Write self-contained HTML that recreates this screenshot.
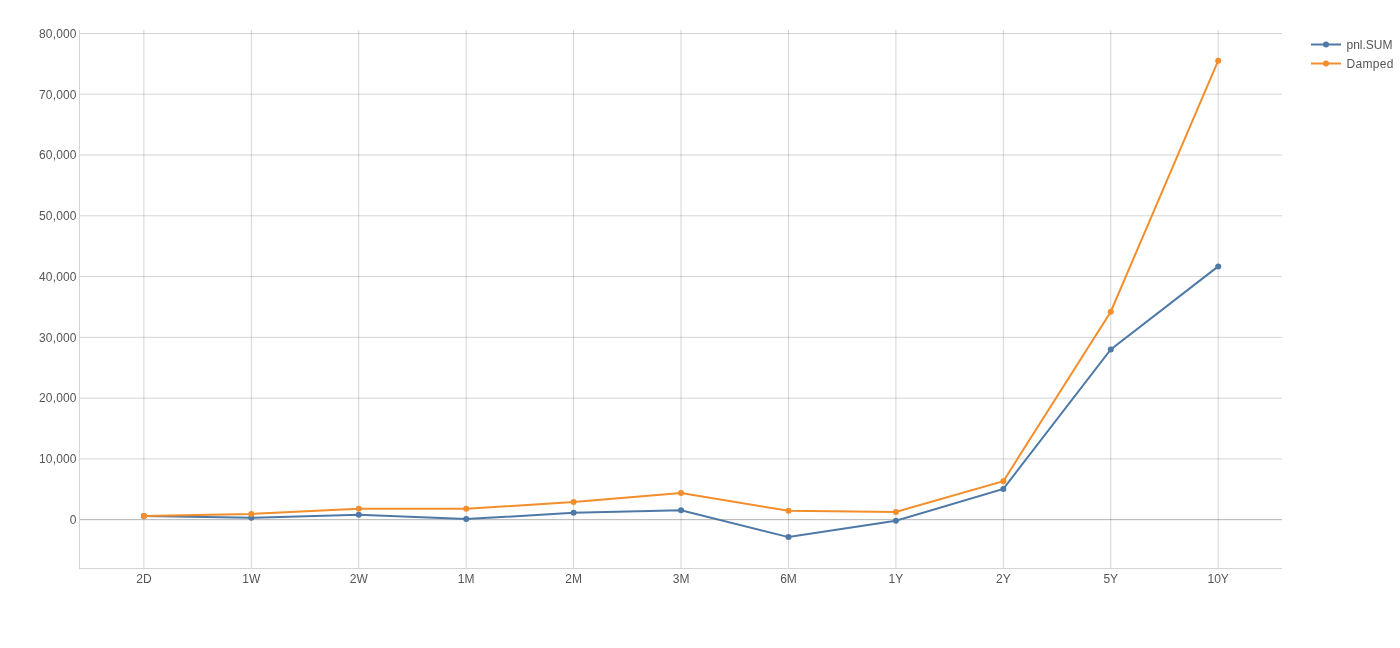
<!DOCTYPE html>
<html lang="en">
<head>
<meta charset="utf-8">
<title>Chart</title>
<style>
html,body{margin:0;padding:0;background:#fff;}
body{width:1400px;height:648px;overflow:hidden;}
svg{display:block;}
text{font-family:"Liberation Sans",Arial,sans-serif;font-size:12px;fill:#555555;}
</style>
</head>
<body>
<svg width="1400" height="648" viewBox="0 0 1400 648">
<rect x="0" y="0" width="1400" height="648" fill="#ffffff"/>

<g stroke="rgba(0,0,0,0.17)" stroke-width="1" fill="none">
<line x1="143.90" y1="30" x2="143.90" y2="568" />
<line x1="251.33" y1="30" x2="251.33" y2="568" />
<line x1="358.76" y1="30" x2="358.76" y2="568" />
<line x1="466.19" y1="30" x2="466.19" y2="568" />
<line x1="573.62" y1="30" x2="573.62" y2="568" />
<line x1="681.05" y1="30" x2="681.05" y2="568" />
<line x1="788.48" y1="30" x2="788.48" y2="568" />
<line x1="895.91" y1="30" x2="895.91" y2="568" />
<line x1="1003.34" y1="30" x2="1003.34" y2="568" />
<line x1="1110.77" y1="30" x2="1110.77" y2="568" />
<line x1="1218.20" y1="30" x2="1218.20" y2="568" />
<line x1="80" y1="458.89" x2="1282" y2="458.89" />
<line x1="80" y1="398.12" x2="1282" y2="398.12" />
<line x1="80" y1="337.35" x2="1282" y2="337.35" />
<line x1="80" y1="276.58" x2="1282" y2="276.58" />
<line x1="80" y1="215.81" x2="1282" y2="215.81" />
<line x1="80" y1="155.04" x2="1282" y2="155.04" />
<line x1="80" y1="94.27" x2="1282" y2="94.27" />
<line x1="80" y1="33.50" x2="1282" y2="33.50" />
</g>
<line x1="80" y1="519.66" x2="1282" y2="519.66" stroke="rgba(0,0,0,0.3)" stroke-width="1"/>
<line x1="79.5" y1="30" x2="79.5" y2="569" stroke="#d4d4d4" stroke-width="1"/>
<line x1="79" y1="568.5" x2="1282" y2="568.5" stroke="#d4d4d4" stroke-width="1"/>
<polyline points="143.90,516.00 251.33,517.85 358.76,514.70 466.19,519.10 573.62,512.80 681.05,510.30 788.48,537.10 895.91,520.80 1003.34,488.90 1110.77,349.50 1218.20,266.40" fill="none" stroke="#4e79a7" stroke-width="2" stroke-linejoin="miter"/>
<g fill="#4e79a7">
<circle cx="143.90" cy="516.00" r="3"/>
<circle cx="251.33" cy="517.85" r="3"/>
<circle cx="358.76" cy="514.70" r="3"/>
<circle cx="466.19" cy="519.10" r="3"/>
<circle cx="573.62" cy="512.80" r="3"/>
<circle cx="681.05" cy="510.30" r="3"/>
<circle cx="788.48" cy="537.10" r="3"/>
<circle cx="895.91" cy="520.80" r="3"/>
<circle cx="1003.34" cy="488.90" r="3"/>
<circle cx="1110.77" cy="349.50" r="3"/>
<circle cx="1218.20" cy="266.40" r="3"/>
</g>
<polyline points="143.90,516.00 251.33,513.90 358.76,508.70 466.19,508.80 573.62,502.00 681.05,493.00 788.48,510.80 895.91,511.90 1003.34,481.20 1110.77,311.70 1218.20,60.70" fill="none" stroke="#f28e2b" stroke-width="2" stroke-linejoin="miter"/>
<g fill="#f28e2b">
<circle cx="143.90" cy="516.00" r="3"/>
<circle cx="251.33" cy="513.90" r="3"/>
<circle cx="358.76" cy="508.70" r="3"/>
<circle cx="466.19" cy="508.80" r="3"/>
<circle cx="573.62" cy="502.00" r="3"/>
<circle cx="681.05" cy="493.00" r="3"/>
<circle cx="788.48" cy="510.80" r="3"/>
<circle cx="895.91" cy="511.90" r="3"/>
<circle cx="1003.34" cy="481.20" r="3"/>
<circle cx="1110.77" cy="311.70" r="3"/>
<circle cx="1218.20" cy="60.70" r="3"/>
</g>
<g text-anchor="middle">
<text x="143.90" y="583">2D</text>
<text x="251.33" y="583">1W</text>
<text x="358.76" y="583">2W</text>
<text x="466.19" y="583">1M</text>
<text x="573.62" y="583">2M</text>
<text x="681.05" y="583">3M</text>
<text x="788.48" y="583">6M</text>
<text x="895.91" y="583">1Y</text>
<text x="1003.34" y="583">2Y</text>
<text x="1110.77" y="583">5Y</text>
<text x="1218.20" y="583">10Y</text>
</g>
<g text-anchor="end">
<text x="76.50" y="523.96">0</text>
<text x="76.70" y="463.19" letter-spacing="0.17">10,000</text>
<text x="76.70" y="402.42" letter-spacing="0.17">20,000</text>
<text x="76.70" y="341.65" letter-spacing="0.17">30,000</text>
<text x="76.70" y="280.88" letter-spacing="0.17">40,000</text>
<text x="76.70" y="220.11" letter-spacing="0.17">50,000</text>
<text x="76.70" y="159.34" letter-spacing="0.17">60,000</text>
<text x="76.70" y="98.57" letter-spacing="0.17">70,000</text>
<text x="76.70" y="37.80" letter-spacing="0.17">80,000</text>
</g>
<line x1="1311" y1="44.5" x2="1341" y2="44.5" stroke="#4e79a7" stroke-width="2"/>
<circle cx="1326" cy="44.5" r="3" fill="#4e79a7"/>
<text x="1346.5" y="48.8">pnl.SUM</text>
<line x1="1311" y1="63.5" x2="1341" y2="63.5" stroke="#f28e2b" stroke-width="2"/>
<circle cx="1326" cy="63.5" r="3" fill="#f28e2b"/>
<text x="1346.5" y="67.8" letter-spacing="0.3">Damped</text>
</svg>
</body>
</html>
